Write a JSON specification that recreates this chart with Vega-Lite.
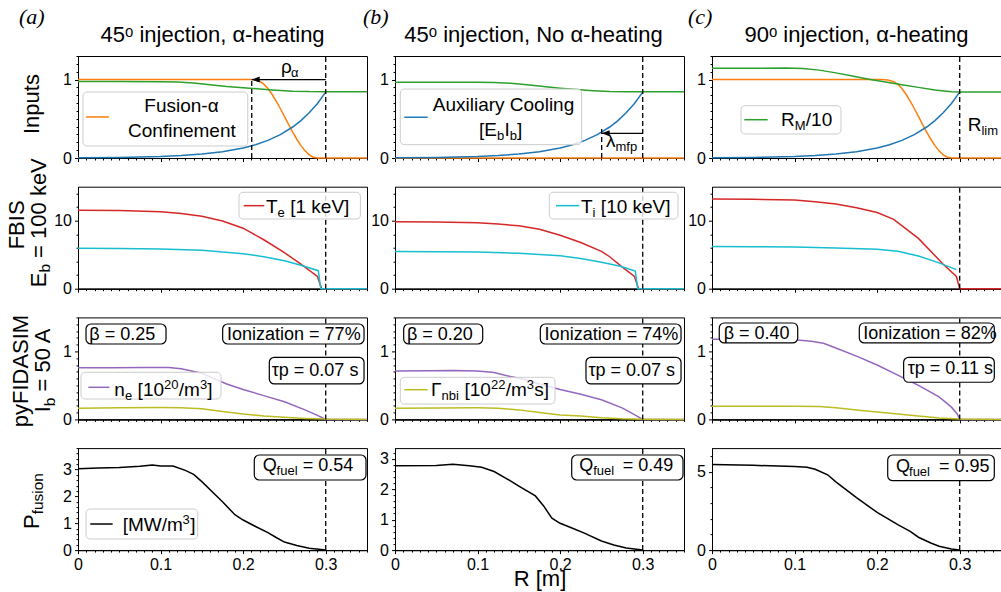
{
"$schema": "https://vega.github.io/schema/vega-lite/v6.json",
"padding": {"left": 5, "top": 5, "right": 0, "bottom": 0},
"background": "white",
"columns": 3,
"spacing": {"row": 28.7, "column": 28},
"bounds": "flush",
"datasets": {
"profiles": [
{"p":"a1","s":"alpha","R":0,"v":1},{"p":"a1","s":"alpha","R":0.213,"v":1},{"p":"a1","s":"alpha","R":0.22,"v":0.98},{"p":"a1","s":"alpha","R":0.225,"v":0.941},{"p":"a1","s":"alpha","R":0.23,"v":0.885},{"p":"a1","s":"alpha","R":0.235,"v":0.812},{"p":"a1","s":"alpha","R":0.24,"v":0.726},{"p":"a1","s":"alpha","R":0.245,"v":0.631},{"p":"a1","s":"alpha","R":0.25,"v":0.531},{"p":"a1","s":"alpha","R":0.255,"v":0.429},{"p":"a1","s":"alpha","R":0.26,"v":0.33},{"p":"a1","s":"alpha","R":0.265,"v":0.239},{"p":"a1","s":"alpha","R":0.27,"v":0.157},{"p":"a1","s":"alpha","R":0.275,"v":0.091},{"p":"a1","s":"alpha","R":0.28,"v":0.041},{"p":"a1","s":"alpha","R":0.285,"v":0.01},{"p":"a1","s":"alpha","R":0.29,"v":0},{"p":"a1","s":"alpha","R":0.35,"v":0},
{"p":"a1","s":"rm","R":0,"v":0.975},{"p":"a1","s":"rm","R":0.05,"v":0.975},{"p":"a1","s":"rm","R":0.1,"v":0.972},{"p":"a1","s":"rm","R":0.12,"v":0.968},{"p":"a1","s":"rm","R":0.14,"v":0.955},{"p":"a1","s":"rm","R":0.16,"v":0.935},{"p":"a1","s":"rm","R":0.18,"v":0.912},{"p":"a1","s":"rm","R":0.2,"v":0.895},{"p":"a1","s":"rm","R":0.22,"v":0.88},{"p":"a1","s":"rm","R":0.24,"v":0.864},{"p":"a1","s":"rm","R":0.26,"v":0.852},{"p":"a1","s":"rm","R":0.28,"v":0.846},{"p":"a1","s":"rm","R":0.3,"v":0.845},{"p":"a1","s":"rm","R":0.35,"v":0.845},
{"p":"a1","s":"cool","R":0,"v":0.003},{"p":"a1","s":"cool","R":0.05,"v":0.007},{"p":"a1","s":"cool","R":0.1,"v":0.019},{"p":"a1","s":"cool","R":0.125,"v":0.031},{"p":"a1","s":"cool","R":0.15,"v":0.05},{"p":"a1","s":"cool","R":0.175,"v":0.079},{"p":"a1","s":"cool","R":0.2,"v":0.127},{"p":"a1","s":"cool","R":0.215,"v":0.169},{"p":"a1","s":"cool","R":0.23,"v":0.224},{"p":"a1","s":"cool","R":0.245,"v":0.298},{"p":"a1","s":"cool","R":0.26,"v":0.395},{"p":"a1","s":"cool","R":0.27,"v":0.477},{"p":"a1","s":"cool","R":0.28,"v":0.576},{"p":"a1","s":"cool","R":0.29,"v":0.695},{"p":"a1","s":"cool","R":0.3,"v":0.84},
{"p":"b1","s":"alpha","R":0,"v":0},{"p":"b1","s":"alpha","R":0.35,"v":0},
{"p":"b1","s":"rm","R":0,"v":0.965},{"p":"b1","s":"rm","R":0.05,"v":0.965},{"p":"b1","s":"rm","R":0.1,"v":0.965},{"p":"b1","s":"rm","R":0.12,"v":0.962},{"p":"b1","s":"rm","R":0.14,"v":0.952},{"p":"b1","s":"rm","R":0.16,"v":0.935},{"p":"b1","s":"rm","R":0.18,"v":0.912},{"p":"b1","s":"rm","R":0.2,"v":0.89},{"p":"b1","s":"rm","R":0.22,"v":0.872},{"p":"b1","s":"rm","R":0.24,"v":0.858},{"p":"b1","s":"rm","R":0.26,"v":0.848},{"p":"b1","s":"rm","R":0.28,"v":0.845},{"p":"b1","s":"rm","R":0.3,"v":0.845},{"p":"b1","s":"rm","R":0.35,"v":0.845},
{"p":"b1","s":"cool","R":0,"v":0.003},{"p":"b1","s":"cool","R":0.05,"v":0.007},{"p":"b1","s":"cool","R":0.1,"v":0.019},{"p":"b1","s":"cool","R":0.125,"v":0.031},{"p":"b1","s":"cool","R":0.15,"v":0.05},{"p":"b1","s":"cool","R":0.175,"v":0.079},{"p":"b1","s":"cool","R":0.2,"v":0.127},{"p":"b1","s":"cool","R":0.215,"v":0.169},{"p":"b1","s":"cool","R":0.23,"v":0.224},{"p":"b1","s":"cool","R":0.245,"v":0.298},{"p":"b1","s":"cool","R":0.26,"v":0.395},{"p":"b1","s":"cool","R":0.27,"v":0.477},{"p":"b1","s":"cool","R":0.28,"v":0.576},{"p":"b1","s":"cool","R":0.29,"v":0.695},{"p":"b1","s":"cool","R":0.3,"v":0.84},
{"p":"c1","s":"alpha","R":0,"v":1},{"p":"c1","s":"alpha","R":0.205,"v":1},{"p":"c1","s":"alpha","R":0.213,"v":0.993},{"p":"c1","s":"alpha","R":0.22,"v":0.972},{"p":"c1","s":"alpha","R":0.225,"v":0.941},{"p":"c1","s":"alpha","R":0.23,"v":0.885},{"p":"c1","s":"alpha","R":0.235,"v":0.812},{"p":"c1","s":"alpha","R":0.24,"v":0.726},{"p":"c1","s":"alpha","R":0.245,"v":0.631},{"p":"c1","s":"alpha","R":0.25,"v":0.531},{"p":"c1","s":"alpha","R":0.255,"v":0.429},{"p":"c1","s":"alpha","R":0.26,"v":0.33},{"p":"c1","s":"alpha","R":0.265,"v":0.239},{"p":"c1","s":"alpha","R":0.27,"v":0.157},{"p":"c1","s":"alpha","R":0.275,"v":0.091},{"p":"c1","s":"alpha","R":0.28,"v":0.041},{"p":"c1","s":"alpha","R":0.285,"v":0.01},{"p":"c1","s":"alpha","R":0.29,"v":0},{"p":"c1","s":"alpha","R":0.35,"v":0},
{"p":"c1","s":"rm","R":0,"v":1.145},{"p":"c1","s":"rm","R":0.03,"v":1.143},{"p":"c1","s":"rm","R":0.06,"v":1.145},{"p":"c1","s":"rm","R":0.09,"v":1.148},{"p":"c1","s":"rm","R":0.11,"v":1.142},{"p":"c1","s":"rm","R":0.13,"v":1.12},{"p":"c1","s":"rm","R":0.15,"v":1.085},{"p":"c1","s":"rm","R":0.17,"v":1.045},{"p":"c1","s":"rm","R":0.19,"v":1.005},{"p":"c1","s":"rm","R":0.21,"v":0.968},{"p":"c1","s":"rm","R":0.23,"v":0.935},{"p":"c1","s":"rm","R":0.25,"v":0.9},{"p":"c1","s":"rm","R":0.27,"v":0.868},{"p":"c1","s":"rm","R":0.29,"v":0.845},{"p":"c1","s":"rm","R":0.3,"v":0.84},{"p":"c1","s":"rm","R":0.35,"v":0.84},
{"p":"c1","s":"cool","R":0,"v":0.003},{"p":"c1","s":"cool","R":0.05,"v":0.007},{"p":"c1","s":"cool","R":0.1,"v":0.019},{"p":"c1","s":"cool","R":0.125,"v":0.031},{"p":"c1","s":"cool","R":0.15,"v":0.05},{"p":"c1","s":"cool","R":0.175,"v":0.079},{"p":"c1","s":"cool","R":0.2,"v":0.127},{"p":"c1","s":"cool","R":0.215,"v":0.169},{"p":"c1","s":"cool","R":0.23,"v":0.224},{"p":"c1","s":"cool","R":0.245,"v":0.298},{"p":"c1","s":"cool","R":0.26,"v":0.395},{"p":"c1","s":"cool","R":0.27,"v":0.477},{"p":"c1","s":"cool","R":0.28,"v":0.576},{"p":"c1","s":"cool","R":0.29,"v":0.695},{"p":"c1","s":"cool","R":0.3,"v":0.84},
{"p":"a2","s":"te","R":0,"v":11.55},{"p":"a2","s":"te","R":0.05,"v":11.5},{"p":"a2","s":"te","R":0.1,"v":11.3},{"p":"a2","s":"te","R":0.125,"v":11.05},{"p":"a2","s":"te","R":0.15,"v":10.65},{"p":"a2","s":"te","R":0.175,"v":9.95},{"p":"a2","s":"te","R":0.2,"v":8.9},{"p":"a2","s":"te","R":0.225,"v":7.2},{"p":"a2","s":"te","R":0.25,"v":5.3},{"p":"a2","s":"te","R":0.27,"v":3.6},{"p":"a2","s":"te","R":0.29,"v":1.8},{"p":"a2","s":"te","R":0.295,"v":0},{"p":"a2","s":"te","R":0.35,"v":0},
{"p":"a2","s":"ti","R":0,"v":5.95},{"p":"a2","s":"ti","R":0.05,"v":5.93},{"p":"a2","s":"ti","R":0.1,"v":5.85},{"p":"a2","s":"ti","R":0.15,"v":5.65},{"p":"a2","s":"ti","R":0.2,"v":5.15},{"p":"a2","s":"ti","R":0.225,"v":4.7},{"p":"a2","s":"ti","R":0.25,"v":4.1},{"p":"a2","s":"ti","R":0.27,"v":3.45},{"p":"a2","s":"ti","R":0.291,"v":2.65},{"p":"a2","s":"ti","R":0.294,"v":0},{"p":"a2","s":"ti","R":0.35,"v":0},
{"p":"b2","s":"te","R":0,"v":9.85},{"p":"b2","s":"te","R":0.05,"v":9.82},{"p":"b2","s":"te","R":0.1,"v":9.7},{"p":"b2","s":"te","R":0.125,"v":9.5},{"p":"b2","s":"te","R":0.15,"v":9.25},{"p":"b2","s":"te","R":0.175,"v":8.75},{"p":"b2","s":"te","R":0.2,"v":7.85},{"p":"b2","s":"te","R":0.225,"v":6.8},{"p":"b2","s":"te","R":0.25,"v":5.5},{"p":"b2","s":"te","R":0.26,"v":4.7},{"p":"b2","s":"te","R":0.275,"v":3.2},{"p":"b2","s":"te","R":0.29,"v":1.8},{"p":"b2","s":"te","R":0.295,"v":0},{"p":"b2","s":"te","R":0.35,"v":0},
{"p":"b2","s":"ti","R":0,"v":5.47},{"p":"b2","s":"ti","R":0.05,"v":5.45},{"p":"b2","s":"ti","R":0.1,"v":5.38},{"p":"b2","s":"ti","R":0.15,"v":5.2},{"p":"b2","s":"ti","R":0.2,"v":4.85},{"p":"b2","s":"ti","R":0.225,"v":4.45},{"p":"b2","s":"ti","R":0.25,"v":3.9},{"p":"b2","s":"ti","R":0.273,"v":3.3},{"p":"b2","s":"ti","R":0.291,"v":2.6},{"p":"b2","s":"ti","R":0.294,"v":0},{"p":"b2","s":"ti","R":0.35,"v":0},
{"p":"c2","s":"te","R":0,"v":13.2},{"p":"c2","s":"te","R":0.05,"v":13.15},{"p":"c2","s":"te","R":0.1,"v":13.05},{"p":"c2","s":"te","R":0.125,"v":12.8},{"p":"c2","s":"te","R":0.15,"v":12.45},{"p":"c2","s":"te","R":0.175,"v":11.9},{"p":"c2","s":"te","R":0.2,"v":11.2},{"p":"c2","s":"te","R":0.22,"v":10.2},{"p":"c2","s":"te","R":0.25,"v":7.4},{"p":"c2","s":"te","R":0.28,"v":3.6},{"p":"c2","s":"te","R":0.296,"v":1.8},{"p":"c2","s":"te","R":0.3,"v":0},{"p":"c2","s":"te","R":0.35,"v":0},
{"p":"c2","s":"ti","R":0,"v":6.2},{"p":"c2","s":"ti","R":0.05,"v":6.18},{"p":"c2","s":"ti","R":0.1,"v":6.12},{"p":"c2","s":"ti","R":0.15,"v":6.0},{"p":"c2","s":"ti","R":0.2,"v":5.8},{"p":"c2","s":"ti","R":0.225,"v":5.5},{"p":"c2","s":"ti","R":0.25,"v":4.8},{"p":"c2","s":"ti","R":0.275,"v":3.8},{"p":"c2","s":"ti","R":0.296,"v":2.8},
{"p":"a3","s":"ne","R":0,"v":0.76},{"p":"a3","s":"ne","R":0.04,"v":0.76},{"p":"a3","s":"ne","R":0.08,"v":0.765},{"p":"a3","s":"ne","R":0.11,"v":0.765},{"p":"a3","s":"ne","R":0.125,"v":0.745},{"p":"a3","s":"ne","R":0.15,"v":0.68},{"p":"a3","s":"ne","R":0.165,"v":0.6},{"p":"a3","s":"ne","R":0.18,"v":0.52},{"p":"a3","s":"ne","R":0.2,"v":0.44},{"p":"a3","s":"ne","R":0.225,"v":0.35},{"p":"a3","s":"ne","R":0.25,"v":0.26},{"p":"a3","s":"ne","R":0.275,"v":0.14},{"p":"a3","s":"ne","R":0.29,"v":0.06},{"p":"a3","s":"ne","R":0.3,"v":0},{"p":"a3","s":"ne","R":0.35,"v":0},
{"p":"a3","s":"gnbi","R":0,"v":0.165},{"p":"a3","s":"gnbi","R":0.05,"v":0.17},{"p":"a3","s":"gnbi","R":0.1,"v":0.175},{"p":"a3","s":"gnbi","R":0.125,"v":0.172},{"p":"a3","s":"gnbi","R":0.15,"v":0.155},{"p":"a3","s":"gnbi","R":0.175,"v":0.115},{"p":"a3","s":"gnbi","R":0.2,"v":0.08},{"p":"a3","s":"gnbi","R":0.225,"v":0.05},{"p":"a3","s":"gnbi","R":0.25,"v":0.03},{"p":"a3","s":"gnbi","R":0.275,"v":0.015},{"p":"a3","s":"gnbi","R":0.3,"v":0.005},{"p":"a3","s":"gnbi","R":0.35,"v":0},
{"p":"b3","s":"ne","R":0,"v":0.71},{"p":"b3","s":"ne","R":0.04,"v":0.715},{"p":"b3","s":"ne","R":0.07,"v":0.72},{"p":"b3","s":"ne","R":0.1,"v":0.71},{"p":"b3","s":"ne","R":0.12,"v":0.69},{"p":"b3","s":"ne","R":0.14,"v":0.63},{"p":"b3","s":"ne","R":0.16,"v":0.58},{"p":"b3","s":"ne","R":0.175,"v":0.52},{"p":"b3","s":"ne","R":0.2,"v":0.44},{"p":"b3","s":"ne","R":0.225,"v":0.37},{"p":"b3","s":"ne","R":0.25,"v":0.29},{"p":"b3","s":"ne","R":0.275,"v":0.17},{"p":"b3","s":"ne","R":0.29,"v":0.07},{"p":"b3","s":"ne","R":0.3,"v":0},{"p":"b3","s":"ne","R":0.35,"v":0},
{"p":"b3","s":"gnbi","R":0,"v":0.165},{"p":"b3","s":"gnbi","R":0.1,"v":0.17},{"p":"b3","s":"gnbi","R":0.125,"v":0.165},{"p":"b3","s":"gnbi","R":0.15,"v":0.14},{"p":"b3","s":"gnbi","R":0.175,"v":0.1},{"p":"b3","s":"gnbi","R":0.2,"v":0.065},{"p":"b3","s":"gnbi","R":0.225,"v":0.05},{"p":"b3","s":"gnbi","R":0.25,"v":0.025},{"p":"b3","s":"gnbi","R":0.275,"v":0.01},{"p":"b3","s":"gnbi","R":0.3,"v":0.003},{"p":"b3","s":"gnbi","R":0.35,"v":0},
{"p":"c3","s":"ne","R":0,"v":1.18},{"p":"c3","s":"ne","R":0.05,"v":1.18},{"p":"c3","s":"ne","R":0.1,"v":1.17},{"p":"c3","s":"ne","R":0.12,"v":1.15},{"p":"c3","s":"ne","R":0.135,"v":1.12},{"p":"c3","s":"ne","R":0.15,"v":1.05},{"p":"c3","s":"ne","R":0.175,"v":0.93},{"p":"c3","s":"ne","R":0.2,"v":0.8},{"p":"c3","s":"ne","R":0.225,"v":0.65},{"p":"c3","s":"ne","R":0.25,"v":0.5},{"p":"c3","s":"ne","R":0.275,"v":0.33},{"p":"c3","s":"ne","R":0.29,"v":0.18},{"p":"c3","s":"ne","R":0.297,"v":0.08},{"p":"c3","s":"ne","R":0.3,"v":0},{"p":"c3","s":"ne","R":0.35,"v":0},
{"p":"c3","s":"gnbi","R":0,"v":0.195},{"p":"c3","s":"gnbi","R":0.1,"v":0.195},{"p":"c3","s":"gnbi","R":0.13,"v":0.19},{"p":"c3","s":"gnbi","R":0.15,"v":0.17},{"p":"c3","s":"gnbi","R":0.175,"v":0.14},{"p":"c3","s":"gnbi","R":0.2,"v":0.11},{"p":"c3","s":"gnbi","R":0.225,"v":0.08},{"p":"c3","s":"gnbi","R":0.25,"v":0.05},{"p":"c3","s":"gnbi","R":0.275,"v":0.02},{"p":"c3","s":"gnbi","R":0.3,"v":0.005},{"p":"c3","s":"gnbi","R":0.35,"v":0},
{"p":"a4","s":"pf","R":0,"v":3.03},{"p":"a4","s":"pf","R":0.025,"v":3.06},{"p":"a4","s":"pf","R":0.05,"v":3.08},{"p":"a4","s":"pf","R":0.075,"v":3.12},{"p":"a4","s":"pf","R":0.09,"v":3.17},{"p":"a4","s":"pf","R":0.1,"v":3.13},{"p":"a4","s":"pf","R":0.115,"v":3.13},{"p":"a4","s":"pf","R":0.13,"v":2.97},{"p":"a4","s":"pf","R":0.14,"v":2.82},{"p":"a4","s":"pf","R":0.15,"v":2.55},{"p":"a4","s":"pf","R":0.165,"v":2.1},{"p":"a4","s":"pf","R":0.175,"v":1.8},{"p":"a4","s":"pf","R":0.19,"v":1.32},{"p":"a4","s":"pf","R":0.2,"v":1.12},{"p":"a4","s":"pf","R":0.215,"v":0.88},{"p":"a4","s":"pf","R":0.23,"v":0.65},{"p":"a4","s":"pf","R":0.24,"v":0.47},{"p":"a4","s":"pf","R":0.25,"v":0.3},{"p":"a4","s":"pf","R":0.265,"v":0.17},{"p":"a4","s":"pf","R":0.28,"v":0.07},{"p":"a4","s":"pf","R":0.3,"v":0},
{"p":"b4","s":"pf","R":0,"v":2.77},{"p":"b4","s":"pf","R":0.05,"v":2.78},{"p":"b4","s":"pf","R":0.07,"v":2.82},{"p":"b4","s":"pf","R":0.09,"v":2.77},{"p":"b4","s":"pf","R":0.105,"v":2.72},{"p":"b4","s":"pf","R":0.12,"v":2.58},{"p":"b4","s":"pf","R":0.135,"v":2.35},{"p":"b4","s":"pf","R":0.15,"v":2.1},{"p":"b4","s":"pf","R":0.17,"v":1.78},{"p":"b4","s":"pf","R":0.18,"v":1.45},{"p":"b4","s":"pf","R":0.19,"v":1.05},{"p":"b4","s":"pf","R":0.2,"v":0.88},{"p":"b4","s":"pf","R":0.215,"v":0.72},{"p":"b4","s":"pf","R":0.23,"v":0.55},{"p":"b4","s":"pf","R":0.25,"v":0.3},{"p":"b4","s":"pf","R":0.265,"v":0.17},{"p":"b4","s":"pf","R":0.28,"v":0.07},{"p":"b4","s":"pf","R":0.3,"v":0},
{"p":"c4","s":"pf","R":0,"v":5.45},{"p":"c4","s":"pf","R":0.05,"v":5.4},{"p":"c4","s":"pf","R":0.1,"v":5.33},{"p":"c4","s":"pf","R":0.115,"v":5.28},{"p":"c4","s":"pf","R":0.125,"v":5.15},{"p":"c4","s":"pf","R":0.14,"v":4.8},{"p":"c4","s":"pf","R":0.15,"v":4.35},{"p":"c4","s":"pf","R":0.175,"v":3.35},{"p":"c4","s":"pf","R":0.2,"v":2.4},{"p":"c4","s":"pf","R":0.225,"v":1.62},{"p":"c4","s":"pf","R":0.24,"v":1.2},{"p":"c4","s":"pf","R":0.25,"v":0.82},{"p":"c4","s":"pf","R":0.265,"v":0.45},{"p":"c4","s":"pf","R":0.275,"v":0.25},{"p":"c4","s":"pf","R":0.29,"v":0.07},{"p":"c4","s":"pf","R":0.3,"v":0}
],
"notes": [
{"p":"a1","k":"dash","R":0.3,"v":0,"v2":1.3},
{"p":"a1","k":"dash","R":0.2104,"v":0,"v2":1},
{"p":"a1","k":"arrow","R":0.2104,"R2":0.3,"v":1},
{"p":"a1","k":"head","R":0.2152,"v":1},
{"p":"a1","k":"t","R":0.2459,"v":1.083,"t":"ρ"},
{"p":"a1","k":"sub","R":0.258,"v":1.083,"t":"α"},
{"p":"a1","k":"lbox","R":0.006,"R2":0.2056,"v":0.153,"v2":0.841},
{"p":"a1","k":"samp","R":0.0097,"R2":0.0375,"v":0.523,"s":"alpha"},
{"p":"a1","k":"t","R":0.0803,"v":0.582,"t":"Fusion-α"},
{"p":"a1","k":"t","R":0.0606,"v":0.264,"t":"Confinement"},
{"p":"a1","k":"yt","R":-0.0478,"v":0.306,"t":"Inputs"},
{"p":"a1","k":"tag","R":-0.0715,"v":1.708,"t":"(a)"},
{"p":"a1","k":"ttl","R":0.163,"v":1.478,"t":"45ᵒ injection, α-heating"},
{"p":"b1","k":"dash","R":0.3,"v":0,"v2":1.3},
{"p":"b1","k":"dash","R":0.2503,"v":0,"v2":0.4},
{"p":"b1","k":"arrow","R":0.2503,"R2":0.3,"v":0.315},
{"p":"b1","k":"head","R":0.2551,"v":0.315},
{"p":"b1","k":"t","R":0.2555,"v":0.136,"t":"λ"},
{"p":"b1","k":"sub","R":0.267,"v":0.136,"t":"mfp"},
{"p":"b1","k":"lbox","R":0.0064,"R2":0.226,"v":0.17,"v2":0.879},
{"p":"b1","k":"samp","R":0.0113,"R2":0.0396,"v":0.519,"s":"cool"},
{"p":"b1","k":"t","R":0.0457,"v":0.603,"t":"Auxiliary Cooling"},
{"p":"b1","k":"t","R":0.1017,"v":0.284,"t":"[E"},
{"p":"b1","k":"sub","R":0.1235,"v":0.284,"t":"b"},
{"p":"b1","k":"t","R":0.1325,"v":0.284,"t":"I"},
{"p":"b1","k":"sub","R":0.1389,"v":0.284,"t":"b"},
{"p":"b1","k":"t","R":0.1479,"v":0.284,"t":"]"},
{"p":"b1","k":"tag","R":-0.0388,"v":1.708,"t":"(b)"},
{"p":"b1","k":"ttl","R":0.1677,"v":1.478,"t":"45ᵒ injection, No α-heating"},
{"p":"c1","k":"dash","R":0.3,"v":0,"v2":1.3},
{"p":"c1","k":"t","R":0.3097,"v":0.348,"t":"R"},
{"p":"c1","k":"sub","R":0.3263,"v":0.348,"t":"lim"},
{"p":"c1","k":"lbox","R":0.0351,"R2":0.1562,"v":0.306,"v2":0.667},
{"p":"c1","k":"samp","R":0.0391,"R2":0.0674,"v":0.488,"s":"rm"},
{"p":"c1","k":"t","R":0.0836,"v":0.412,"t":"R"},
{"p":"c1","k":"sub","R":0.1002,"v":0.412,"t":"M"},
{"p":"c1","k":"t","R":0.1136,"v":0.412,"t":"/10"},
{"p":"c1","k":"tag","R":-0.0291,"v":1.708,"t":"(c)"},
{"p":"c1","k":"ttl","R":0.175,"v":1.478,"t":"90ᵒ injection, α-heating"},
{"p":"a2","k":"dash","R":0.3,"v":0,"v2":15},
{"p":"a2","k":"lbox","R":0.195,"R2":0.342,"v":10.25,"v2":14.18},
{"p":"a2","k":"samp","R":0.2007,"R2":0.2256,"v":12.21,"s":"te"},
{"p":"a2","k":"t","R":0.2277,"v":11.06,"t":"T"},
{"p":"a2","k":"sub","R":0.2417,"v":11.06,"t":"e"},
{"p":"a2","k":"t","R":0.257,"v":11.06,"t":"[1 keV]"},
{"p":"a2","k":"yt","R":-0.0654,"v":5.79,"t":"FBIS"},
{"p":"a2","k":"yt","R":-0.0388,"v":0.206,"t":"E"},
{"p":"a2","k":"ysub","R":-0.0388,"v":2.37,"t":"b"},
{"p":"a2","k":"yt","R":-0.0388,"v":4.53,"t":"= 100 keV"},
{"p":"b2","k":"dash","R":0.3,"v":0,"v2":15},
{"p":"b2","k":"lbox","R":0.1869,"R2":0.3427,"v":10.25,"v2":14.18},
{"p":"b2","k":"samp","R":0.195,"R2":0.2232,"v":12.21,"s":"ti"},
{"p":"b2","k":"t","R":0.2253,"v":11.06,"t":"T"},
{"p":"b2","k":"sub","R":0.2393,"v":11.06,"t":"i"},
{"p":"b2","k":"t","R":0.2493,"v":11.06,"t":"[10 keV]"},
{"p":"c2","k":"dash","R":0.3,"v":0,"v2":15},
{"p":"a3","k":"dash","R":0.3,"v":0,"v2":1.5},
{"p":"a3","k":"nbox","R":0.0097,"R2":0.1066,"v":1.109,"v2":1.403},
{"p":"a3","k":"nbox","R":0.1752,"R2":0.3464,"v":1.109,"v2":1.403},
{"p":"a3","k":"nbox","R":0.2317,"R2":0.3464,"v":0.521,"v2":0.913},
{"p":"a3","k":"bt","R":0.0137,"v":1.168,"t":"β = 0.25"},
{"p":"a3","k":"bt","R":0.1805,"v":1.168,"t":"Ionization = 77%"},
{"p":"a3","k":"bt","R":0.2346,"v":0.643,"t":"τp = 0.07 s"},
{"p":"a3","k":"lbox","R":0.0036,"R2":0.1732,"v":0.3,"v2":0.693},
{"p":"a3","k":"samp","R":0.0125,"R2":0.038,"v":0.472,"s":"ne"},
{"p":"a3","k":"t","R":0.044,"v":0.349,"t":"n"},
{"p":"a3","k":"sub","R":0.0568,"v":0.349,"t":"e"},
{"p":"a3","k":"t","R":0.0722,"v":0.349,"t":"[10"},
{"p":"a3","k":"sup","R":0.1042,"v":0.349,"t":"20"},
{"p":"a3","k":"t","R":0.1221,"v":0.349,"t":"/m"},
{"p":"a3","k":"sup","R":0.1477,"v":0.349,"t":"3"},
{"p":"a3","k":"t","R":0.1566,"v":0.349,"t":"]"},
{"p":"a3","k":"yt","R":-0.06,"v":-0.116,"t":"pyFIDASIM"},
{"p":"a3","k":"yt","R":-0.0339,"v":0.104,"t":"I"},
{"p":"a3","k":"ysub","R":-0.0339,"v":0.195,"t":"b"},
{"p":"a3","k":"yt","R":-0.0339,"v":0.41,"t":"= 50 A"},
{"p":"b3","k":"dash","R":0.3,"v":0,"v2":1.5},
{"p":"b3","k":"nbox","R":0.0105,"R2":0.1062,"v":1.109,"v2":1.403},
{"p":"b3","k":"nbox","R":0.176,"R2":0.3464,"v":1.109,"v2":1.403},
{"p":"b3","k":"nbox","R":0.2313,"R2":0.3464,"v":0.521,"v2":0.913},
{"p":"b3","k":"bt","R":0.0145,"v":1.168,"t":"β = 0.20"},
{"p":"b3","k":"bt","R":0.1812,"v":1.168,"t":"Ionization = 74%"},
{"p":"b3","k":"bt","R":0.2342,"v":0.643,"t":"τp = 0.07 s"},
{"p":"b3","k":"lbox","R":0.0064,"R2":0.1938,"v":0.226,"v2":0.619},
{"p":"b3","k":"samp","R":0.0113,"R2":0.0396,"v":0.437,"s":"gnbi"},
{"p":"b3","k":"t","R":0.0436,"v":0.34,"t":"Γ"},
{"p":"b3","k":"sub","R":0.0564,"v":0.34,"t":"nbi"},
{"p":"b3","k":"t","R":0.0842,"v":0.34,"t":"[10"},
{"p":"b3","k":"sup","R":0.1163,"v":0.34,"t":"22"},
{"p":"b3","k":"t","R":0.1342,"v":0.34,"t":"/m"},
{"p":"b3","k":"sup","R":0.1597,"v":0.34,"t":"3"},
{"p":"b3","k":"t","R":0.1687,"v":0.34,"t":"s]"},
{"p":"c3","k":"dash","R":0.3,"v":0,"v2":1.5},
{"p":"c3","k":"nbox","R":0.0088,"R2":0.1038,"v":1.124,"v2":1.418},
{"p":"c3","k":"nbox","R":0.1784,"R2":0.3419,"v":1.124,"v2":1.418},
{"p":"c3","k":"nbox","R":0.2321,"R2":0.3419,"v":0.546,"v2":0.913},
{"p":"c3","k":"bt","R":0.0142,"v":1.182,"t":"β = 0.40"},
{"p":"c3","k":"bt","R":0.1832,"v":1.182,"t":"Ionization = 82%"},
{"p":"c3","k":"bt","R":0.237,"v":0.668,"t":"τp = 0.11 s"},
{"p":"a4","k":"dash","R":0.3,"v":0,"v2":3.8},
{"p":"a4","k":"nbox","R":0.2135,"R2":0.3488,"v":2.612,"v2":3.543},
{"p":"a4","k":"bt","R":0.2236,"v":2.958,"t":"Q"},
{"p":"a4","k":"sub","R":0.2405,"v":2.958,"t":"fuel"},
{"p":"a4","k":"bt","R":0.2721,"v":2.958,"t":"= 0.54"},
{"p":"a4","k":"lbox","R":0.0097,"R2":0.145,"v":0.414,"v2":1.531},
{"p":"a4","k":"samp","R":0.0149,"R2":0.042,"v":0.972,"s":"pf"},
{"p":"a4","k":"t","R":0.0541,"v":0.723,"t":"[MW/m"},
{"p":"a4","k":"sup","R":0.1266,"v":0.723,"t":"3"},
{"p":"a4","k":"t","R":0.1359,"v":0.723,"t":"]"},
{"p":"a4","k":"yt","R":-0.0478,"v":0.786,"t":"P"},
{"p":"a4","k":"ysub","R":-0.0478,"v":1.334,"t":"fusion"},
{"p":"b4","k":"dash","R":0.3,"v":0,"v2":3.35},
{"p":"b4","k":"nbox","R":0.214,"R2":0.3488,"v":2.302,"v2":3.123},
{"p":"b4","k":"bt","R":0.2232,"v":2.608,"t":"Q"},
{"p":"b4","k":"sub","R":0.2401,"v":2.608,"t":"fuel"},
{"p":"b4","k":"bt","R":0.2758,"v":2.608,"t":"= 0.49"},
{"p":"c4","k":"dash","R":0.3,"v":0,"v2":6.5},
{"p":"c4","k":"nbox","R":0.2128,"R2":0.3419,"v":4.423,"v2":6.061},
{"p":"c4","k":"bt","R":0.2228,"v":4.958,"t":"Q"},
{"p":"c4","k":"sub","R":0.2386,"v":4.958,"t":"fuel"},
{"p":"c4","k":"bt","R":0.275,"v":4.958,"t":"= 0.95"}
]
},
"concat": [
{"width":289,"height":102,
 "encoding":{"x":{"field":"R","type":"quantitative","scale":{"domain":[0,0.35],"nice":false,"zero":false},"axis":{"orient":"bottom","values":[0,0.1,0.2,0.3],"labels":false,"tickSize":3.5,"title":null}},
  "y":{"field":"v","type":"quantitative","scale":{"domain":[0,1.3],"nice":false,"zero":false},"axis":{"orient":"left","values":[0,1],"format":"d","tickSize":3.5,"title":null}}},
 "resolve":{"axis":{"x":"independent","y":"independent"}},
 "layer":[
  {"layer":[
   {"data":{"name":"profiles"},"transform":[{"filter":"datum.p=='a1'"}],"mark":{"type":"line","strokeWidth":1.5},"encoding":{"color":{"field":"s","type":"nominal","scale":{"domain":["alpha","cool","rm","te","ti","ne","gnbi","pf"],"range":["#ff7f0e","#1f77b4","#2ca02c","#d62728","#17becf","#9467bd","#bcbd22","#000000"]},"legend":null}}},
   {"data":{"name":"notes"},"transform":[{"filter":"datum.p=='a1'&&datum.k=='dash'"}],"mark":{"type":"rule","color":"black","strokeWidth":1.3,"strokeDash":[5,3]},"encoding":{"y2":{"field":"v2"}}},
   {"data":{"name":"notes"},"transform":[{"filter":"datum.p=='a1'&&datum.k=='arrow'"}],"mark":{"type":"rule","color":"black","strokeWidth":1.3},"encoding":{"x2":{"field":"R2"}}},
   {"data":{"name":"notes"},"transform":[{"filter":"datum.p=='a1'&&datum.k=='head'"}],"mark":{"type":"point","shape":"M-1,0L1,-0.75L1,0.75Z","filled":true,"color":"black","opacity":1,"size":64}},
   {"data":{"name":"notes"},"transform":[{"filter":"datum.p=='a1'&&datum.k=='lbox'"}],"mark":{"type":"rect","fill":"white","fillOpacity":0.8,"stroke":"#cccccc","strokeWidth":1,"cornerRadius":4},"encoding":{"x2":{"field":"R2"},"y2":{"field":"v2"}}},
   {"data":{"name":"notes"},"transform":[{"filter":"datum.p=='a1'&&datum.k=='samp'"}],"mark":{"type":"rule","strokeWidth":1.5},"encoding":{"x2":{"field":"R2"},"color":{"field":"s","type":"nominal","scale":{"domain":["alpha","cool","rm","te","ti","ne","gnbi","pf"],"range":["#ff7f0e","#1f77b4","#2ca02c","#d62728","#17becf","#9467bd","#bcbd22","#000000"]},"legend":null}}},
   {"data":{"name":"notes"},"transform":[{"filter":"datum.p=='a1'&&datum.k=='t'"}],"mark":{"type":"text","align":"left","baseline":"alphabetic","fontSize":19},"encoding":{"text":{"field":"t","type":"nominal"}}},
   {"data":{"name":"notes"},"transform":[{"filter":"datum.p=='a1'&&datum.k=='sub'"}],"mark":{"type":"text","align":"left","baseline":"alphabetic","fontSize":13,"dy":4},"encoding":{"text":{"field":"t","type":"nominal"}}},
   {"data":{"name":"notes"},"transform":[{"filter":"datum.p=='a1'&&datum.k=='yt'"}],"mark":{"type":"text","align":"left","baseline":"alphabetic","fontSize":22,"angle":270},"encoding":{"text":{"field":"t","type":"nominal"}}},
   {"data":{"name":"notes"},"transform":[{"filter":"datum.p=='a1'&&datum.k=='ttl'"}],"mark":{"type":"text","align":"center","baseline":"alphabetic","fontSize":22},"encoding":{"text":{"field":"t","type":"nominal"}}},
   {"data":{"name":"notes"},"transform":[{"filter":"datum.p=='a1'&&datum.k=='tag'"}],"mark":{"type":"text","align":"left","baseline":"alphabetic","fontSize":22,"font":"Liberation Serif","fontStyle":"italic"},"encoding":{"text":{"field":"t","type":"nominal"}}}
  ]},
  {"data":{"name":"notes"},"transform":[{"filter":"datum.p=='a1'&&datum.k=='dash'"}],"mark":{"type":"point","opacity":0},
   "encoding":{"x":{"field":"R","type":"quantitative","scale":{"domain":[0,0.35],"nice":false,"zero":false},"axis":{"orient":"bottom","values":[0.01,0.02,0.03,0.04,0.05,0.06,0.07,0.08,0.09,0.11,0.12,0.13,0.14,0.15,0.16,0.17,0.18,0.19,0.21,0.22,0.23,0.24,0.25,0.26,0.27,0.28,0.29,0.31,0.32,0.33,0.34,0.35],"labels":false,"tickSize":2,"title":null}},
    "y":{"field":"v","type":"quantitative","scale":{"domain":[0,1.3],"nice":false,"zero":false},"axis":{"orient":"left","values":[0.1,0.2,0.3,0.4,0.5,0.6,0.7,0.8,0.9,1.1,1.2,1.3],"labels":false,"tickSize":2,"title":null}}}}
 ]},
{"width":289,"height":102,
 "encoding":{"x":{"field":"R","type":"quantitative","scale":{"domain":[0,0.35],"nice":false,"zero":false},"axis":{"orient":"bottom","values":[0,0.1,0.2,0.3],"labels":false,"tickSize":3.5,"title":null}},
  "y":{"field":"v","type":"quantitative","scale":{"domain":[0,1.3],"nice":false,"zero":false},"axis":{"orient":"left","values":[0,1],"format":"d","tickSize":3.5,"title":null}}},
 "resolve":{"axis":{"x":"independent","y":"independent"}},
 "layer":[
  {"layer":[
   {"data":{"name":"profiles"},"transform":[{"filter":"datum.p=='b1'"}],"mark":{"type":"line","strokeWidth":1.5},"encoding":{"color":{"field":"s","type":"nominal","scale":{"domain":["alpha","cool","rm","te","ti","ne","gnbi","pf"],"range":["#ff7f0e","#1f77b4","#2ca02c","#d62728","#17becf","#9467bd","#bcbd22","#000000"]},"legend":null}}},
   {"data":{"name":"notes"},"transform":[{"filter":"datum.p=='b1'&&datum.k=='dash'"}],"mark":{"type":"rule","color":"black","strokeWidth":1.3,"strokeDash":[5,3]},"encoding":{"y2":{"field":"v2"}}},
   {"data":{"name":"notes"},"transform":[{"filter":"datum.p=='b1'&&datum.k=='arrow'"}],"mark":{"type":"rule","color":"black","strokeWidth":1.3},"encoding":{"x2":{"field":"R2"}}},
   {"data":{"name":"notes"},"transform":[{"filter":"datum.p=='b1'&&datum.k=='head'"}],"mark":{"type":"point","shape":"M-1,0L1,-0.75L1,0.75Z","filled":true,"color":"black","opacity":1,"size":64}},
   {"data":{"name":"notes"},"transform":[{"filter":"datum.p=='b1'&&datum.k=='lbox'"}],"mark":{"type":"rect","fill":"white","fillOpacity":0.8,"stroke":"#cccccc","strokeWidth":1,"cornerRadius":4},"encoding":{"x2":{"field":"R2"},"y2":{"field":"v2"}}},
   {"data":{"name":"notes"},"transform":[{"filter":"datum.p=='b1'&&datum.k=='samp'"}],"mark":{"type":"rule","strokeWidth":1.5},"encoding":{"x2":{"field":"R2"},"color":{"field":"s","type":"nominal","scale":{"domain":["alpha","cool","rm","te","ti","ne","gnbi","pf"],"range":["#ff7f0e","#1f77b4","#2ca02c","#d62728","#17becf","#9467bd","#bcbd22","#000000"]},"legend":null}}},
   {"data":{"name":"notes"},"transform":[{"filter":"datum.p=='b1'&&datum.k=='t'"}],"mark":{"type":"text","align":"left","baseline":"alphabetic","fontSize":19},"encoding":{"text":{"field":"t","type":"nominal"}}},
   {"data":{"name":"notes"},"transform":[{"filter":"datum.p=='b1'&&datum.k=='sub'"}],"mark":{"type":"text","align":"left","baseline":"alphabetic","fontSize":13,"dy":4},"encoding":{"text":{"field":"t","type":"nominal"}}},
   {"data":{"name":"notes"},"transform":[{"filter":"datum.p=='b1'&&datum.k=='ttl'"}],"mark":{"type":"text","align":"center","baseline":"alphabetic","fontSize":22},"encoding":{"text":{"field":"t","type":"nominal"}}},
   {"data":{"name":"notes"},"transform":[{"filter":"datum.p=='b1'&&datum.k=='tag'"}],"mark":{"type":"text","align":"left","baseline":"alphabetic","fontSize":22,"font":"Liberation Serif","fontStyle":"italic"},"encoding":{"text":{"field":"t","type":"nominal"}}}
  ]},
  {"data":{"name":"notes"},"transform":[{"filter":"datum.p=='b1'&&datum.k=='dash'"}],"mark":{"type":"point","opacity":0},
   "encoding":{"x":{"field":"R","type":"quantitative","scale":{"domain":[0,0.35],"nice":false,"zero":false},"axis":{"orient":"bottom","values":[0.01,0.02,0.03,0.04,0.05,0.06,0.07,0.08,0.09,0.11,0.12,0.13,0.14,0.15,0.16,0.17,0.18,0.19,0.21,0.22,0.23,0.24,0.25,0.26,0.27,0.28,0.29,0.31,0.32,0.33,0.34,0.35],"labels":false,"tickSize":2,"title":null}},
    "y":{"field":"v","type":"quantitative","scale":{"domain":[0,1.3],"nice":false,"zero":false},"axis":{"orient":"left","values":[0.1,0.2,0.3,0.4,0.5,0.6,0.7,0.8,0.9,1.1,1.2,1.3],"labels":false,"tickSize":2,"title":null}}}}
 ]},
{"width":289,"height":102,
 "encoding":{"x":{"field":"R","type":"quantitative","scale":{"domain":[0,0.35],"nice":false,"zero":false},"axis":{"orient":"bottom","values":[0,0.1,0.2,0.3],"labels":false,"tickSize":3.5,"title":null}},
  "y":{"field":"v","type":"quantitative","scale":{"domain":[0,1.3],"nice":false,"zero":false},"axis":{"orient":"left","values":[0,1],"format":"d","tickSize":3.5,"title":null}}},
 "resolve":{"axis":{"x":"independent","y":"independent"}},
 "layer":[
  {"layer":[
   {"data":{"name":"profiles"},"transform":[{"filter":"datum.p=='c1'"}],"mark":{"type":"line","strokeWidth":1.5},"encoding":{"color":{"field":"s","type":"nominal","scale":{"domain":["alpha","cool","rm","te","ti","ne","gnbi","pf"],"range":["#ff7f0e","#1f77b4","#2ca02c","#d62728","#17becf","#9467bd","#bcbd22","#000000"]},"legend":null}}},
   {"data":{"name":"notes"},"transform":[{"filter":"datum.p=='c1'&&datum.k=='dash'"}],"mark":{"type":"rule","color":"black","strokeWidth":1.3,"strokeDash":[5,3]},"encoding":{"y2":{"field":"v2"}}},
   {"data":{"name":"notes"},"transform":[{"filter":"datum.p=='c1'&&datum.k=='lbox'"}],"mark":{"type":"rect","fill":"white","fillOpacity":0.8,"stroke":"#cccccc","strokeWidth":1,"cornerRadius":4},"encoding":{"x2":{"field":"R2"},"y2":{"field":"v2"}}},
   {"data":{"name":"notes"},"transform":[{"filter":"datum.p=='c1'&&datum.k=='samp'"}],"mark":{"type":"rule","strokeWidth":1.5},"encoding":{"x2":{"field":"R2"},"color":{"field":"s","type":"nominal","scale":{"domain":["alpha","cool","rm","te","ti","ne","gnbi","pf"],"range":["#ff7f0e","#1f77b4","#2ca02c","#d62728","#17becf","#9467bd","#bcbd22","#000000"]},"legend":null}}},
   {"data":{"name":"notes"},"transform":[{"filter":"datum.p=='c1'&&datum.k=='t'"}],"mark":{"type":"text","align":"left","baseline":"alphabetic","fontSize":19},"encoding":{"text":{"field":"t","type":"nominal"}}},
   {"data":{"name":"notes"},"transform":[{"filter":"datum.p=='c1'&&datum.k=='sub'"}],"mark":{"type":"text","align":"left","baseline":"alphabetic","fontSize":13,"dy":4},"encoding":{"text":{"field":"t","type":"nominal"}}},
   {"data":{"name":"notes"},"transform":[{"filter":"datum.p=='c1'&&datum.k=='ttl'"}],"mark":{"type":"text","align":"center","baseline":"alphabetic","fontSize":22},"encoding":{"text":{"field":"t","type":"nominal"}}},
   {"data":{"name":"notes"},"transform":[{"filter":"datum.p=='c1'&&datum.k=='tag'"}],"mark":{"type":"text","align":"left","baseline":"alphabetic","fontSize":22,"font":"Liberation Serif","fontStyle":"italic"},"encoding":{"text":{"field":"t","type":"nominal"}}}
  ]},
  {"data":{"name":"notes"},"transform":[{"filter":"datum.p=='c1'&&datum.k=='dash'"}],"mark":{"type":"point","opacity":0},
   "encoding":{"x":{"field":"R","type":"quantitative","scale":{"domain":[0,0.35],"nice":false,"zero":false},"axis":{"orient":"bottom","values":[0.01,0.02,0.03,0.04,0.05,0.06,0.07,0.08,0.09,0.11,0.12,0.13,0.14,0.15,0.16,0.17,0.18,0.19,0.21,0.22,0.23,0.24,0.25,0.26,0.27,0.28,0.29,0.31,0.32,0.33,0.34,0.35],"labels":false,"tickSize":2,"title":null}},
    "y":{"field":"v","type":"quantitative","scale":{"domain":[0,1.3],"nice":false,"zero":false},"axis":{"orient":"left","values":[0.1,0.2,0.3,0.4,0.5,0.6,0.7,0.8,0.9,1.1,1.2,1.3],"labels":false,"tickSize":2,"title":null}}}}
 ]},
{"width":289,"height":102,
 "encoding":{"x":{"field":"R","type":"quantitative","scale":{"domain":[0,0.35],"nice":false,"zero":false},"axis":{"orient":"bottom","values":[0,0.1,0.2,0.3],"labels":false,"tickSize":3.5,"title":null}},
  "y":{"field":"v","type":"quantitative","scale":{"domain":[0,15],"nice":false,"zero":false},"axis":{"orient":"left","values":[0,10],"format":"d","tickSize":3.5,"title":null}}},
 "resolve":{"axis":{"x":"independent","y":"independent"}},
 "layer":[
  {"layer":[
   {"data":{"name":"profiles"},"transform":[{"filter":"datum.p=='a2'"}],"mark":{"type":"line","strokeWidth":1.5},"encoding":{"color":{"field":"s","type":"nominal","scale":{"domain":["alpha","cool","rm","te","ti","ne","gnbi","pf"],"range":["#ff7f0e","#1f77b4","#2ca02c","#d62728","#17becf","#9467bd","#bcbd22","#000000"]},"legend":null}}},
   {"data":{"name":"notes"},"transform":[{"filter":"datum.p=='a2'&&datum.k=='dash'"}],"mark":{"type":"rule","color":"black","strokeWidth":1.3,"strokeDash":[5,3]},"encoding":{"y2":{"field":"v2"}}},
   {"data":{"name":"notes"},"transform":[{"filter":"datum.p=='a2'&&datum.k=='lbox'"}],"mark":{"type":"rect","fill":"white","fillOpacity":0.8,"stroke":"#cccccc","strokeWidth":1,"cornerRadius":4},"encoding":{"x2":{"field":"R2"},"y2":{"field":"v2"}}},
   {"data":{"name":"notes"},"transform":[{"filter":"datum.p=='a2'&&datum.k=='samp'"}],"mark":{"type":"rule","strokeWidth":1.5},"encoding":{"x2":{"field":"R2"},"color":{"field":"s","type":"nominal","scale":{"domain":["alpha","cool","rm","te","ti","ne","gnbi","pf"],"range":["#ff7f0e","#1f77b4","#2ca02c","#d62728","#17becf","#9467bd","#bcbd22","#000000"]},"legend":null}}},
   {"data":{"name":"notes"},"transform":[{"filter":"datum.p=='a2'&&datum.k=='t'"}],"mark":{"type":"text","align":"left","baseline":"alphabetic","fontSize":19},"encoding":{"text":{"field":"t","type":"nominal"}}},
   {"data":{"name":"notes"},"transform":[{"filter":"datum.p=='a2'&&datum.k=='sub'"}],"mark":{"type":"text","align":"left","baseline":"alphabetic","fontSize":13,"dy":4},"encoding":{"text":{"field":"t","type":"nominal"}}},
   {"data":{"name":"notes"},"transform":[{"filter":"datum.p=='a2'&&datum.k=='yt'"}],"mark":{"type":"text","align":"left","baseline":"alphabetic","fontSize":22,"angle":270},"encoding":{"text":{"field":"t","type":"nominal"}}},
   {"data":{"name":"notes"},"transform":[{"filter":"datum.p=='a2'&&datum.k=='ysub'"}],"mark":{"type":"text","align":"left","baseline":"alphabetic","fontSize":15.4,"angle":270,"dy":4.5},"encoding":{"text":{"field":"t","type":"nominal"}}}
  ]},
  {"data":{"name":"notes"},"transform":[{"filter":"datum.p=='a2'&&datum.k=='dash'"}],"mark":{"type":"point","opacity":0},
   "encoding":{"x":{"field":"R","type":"quantitative","scale":{"domain":[0,0.35],"nice":false,"zero":false},"axis":{"orient":"bottom","values":[0.01,0.02,0.03,0.04,0.05,0.06,0.07,0.08,0.09,0.11,0.12,0.13,0.14,0.15,0.16,0.17,0.18,0.19,0.21,0.22,0.23,0.24,0.25,0.26,0.27,0.28,0.29,0.31,0.32,0.33,0.34,0.35],"labels":false,"tickSize":2,"title":null}},
    "y":{"field":"v","type":"quantitative","scale":{"domain":[0,15],"nice":false,"zero":false},"axis":{"orient":"left","values":[2,4,6,8,12,14],"labels":false,"tickSize":2,"title":null}}}}
 ]},
{"width":289,"height":102,
 "encoding":{"x":{"field":"R","type":"quantitative","scale":{"domain":[0,0.35],"nice":false,"zero":false},"axis":{"orient":"bottom","values":[0,0.1,0.2,0.3],"labels":false,"tickSize":3.5,"title":null}},
  "y":{"field":"v","type":"quantitative","scale":{"domain":[0,15],"nice":false,"zero":false},"axis":{"orient":"left","values":[0,10],"format":"d","tickSize":3.5,"title":null}}},
 "resolve":{"axis":{"x":"independent","y":"independent"}},
 "layer":[
  {"layer":[
   {"data":{"name":"profiles"},"transform":[{"filter":"datum.p=='b2'"}],"mark":{"type":"line","strokeWidth":1.5},"encoding":{"color":{"field":"s","type":"nominal","scale":{"domain":["alpha","cool","rm","te","ti","ne","gnbi","pf"],"range":["#ff7f0e","#1f77b4","#2ca02c","#d62728","#17becf","#9467bd","#bcbd22","#000000"]},"legend":null}}},
   {"data":{"name":"notes"},"transform":[{"filter":"datum.p=='b2'&&datum.k=='dash'"}],"mark":{"type":"rule","color":"black","strokeWidth":1.3,"strokeDash":[5,3]},"encoding":{"y2":{"field":"v2"}}},
   {"data":{"name":"notes"},"transform":[{"filter":"datum.p=='b2'&&datum.k=='lbox'"}],"mark":{"type":"rect","fill":"white","fillOpacity":0.8,"stroke":"#cccccc","strokeWidth":1,"cornerRadius":4},"encoding":{"x2":{"field":"R2"},"y2":{"field":"v2"}}},
   {"data":{"name":"notes"},"transform":[{"filter":"datum.p=='b2'&&datum.k=='samp'"}],"mark":{"type":"rule","strokeWidth":1.5},"encoding":{"x2":{"field":"R2"},"color":{"field":"s","type":"nominal","scale":{"domain":["alpha","cool","rm","te","ti","ne","gnbi","pf"],"range":["#ff7f0e","#1f77b4","#2ca02c","#d62728","#17becf","#9467bd","#bcbd22","#000000"]},"legend":null}}},
   {"data":{"name":"notes"},"transform":[{"filter":"datum.p=='b2'&&datum.k=='t'"}],"mark":{"type":"text","align":"left","baseline":"alphabetic","fontSize":19},"encoding":{"text":{"field":"t","type":"nominal"}}},
   {"data":{"name":"notes"},"transform":[{"filter":"datum.p=='b2'&&datum.k=='sub'"}],"mark":{"type":"text","align":"left","baseline":"alphabetic","fontSize":13,"dy":4},"encoding":{"text":{"field":"t","type":"nominal"}}}
  ]},
  {"data":{"name":"notes"},"transform":[{"filter":"datum.p=='b2'&&datum.k=='dash'"}],"mark":{"type":"point","opacity":0},
   "encoding":{"x":{"field":"R","type":"quantitative","scale":{"domain":[0,0.35],"nice":false,"zero":false},"axis":{"orient":"bottom","values":[0.01,0.02,0.03,0.04,0.05,0.06,0.07,0.08,0.09,0.11,0.12,0.13,0.14,0.15,0.16,0.17,0.18,0.19,0.21,0.22,0.23,0.24,0.25,0.26,0.27,0.28,0.29,0.31,0.32,0.33,0.34,0.35],"labels":false,"tickSize":2,"title":null}},
    "y":{"field":"v","type":"quantitative","scale":{"domain":[0,15],"nice":false,"zero":false},"axis":{"orient":"left","values":[2,4,6,8,12,14],"labels":false,"tickSize":2,"title":null}}}}
 ]},
{"width":289,"height":102,
 "encoding":{"x":{"field":"R","type":"quantitative","scale":{"domain":[0,0.35],"nice":false,"zero":false},"axis":{"orient":"bottom","values":[0,0.1,0.2,0.3],"labels":false,"tickSize":3.5,"title":null}},
  "y":{"field":"v","type":"quantitative","scale":{"domain":[0,15],"nice":false,"zero":false},"axis":{"orient":"left","values":[0,10],"format":"d","tickSize":3.5,"title":null}}},
 "resolve":{"axis":{"x":"independent","y":"independent"}},
 "layer":[
  {"layer":[
   {"data":{"name":"profiles"},"transform":[{"filter":"datum.p=='c2'"}],"mark":{"type":"line","strokeWidth":1.5},"encoding":{"color":{"field":"s","type":"nominal","scale":{"domain":["alpha","cool","rm","te","ti","ne","gnbi","pf"],"range":["#ff7f0e","#1f77b4","#2ca02c","#d62728","#17becf","#9467bd","#bcbd22","#000000"]},"legend":null}}},
   {"data":{"name":"notes"},"transform":[{"filter":"datum.p=='c2'&&datum.k=='dash'"}],"mark":{"type":"rule","color":"black","strokeWidth":1.3,"strokeDash":[5,3]},"encoding":{"y2":{"field":"v2"}}}
  ]},
  {"data":{"name":"notes"},"transform":[{"filter":"datum.p=='c2'&&datum.k=='dash'"}],"mark":{"type":"point","opacity":0},
   "encoding":{"x":{"field":"R","type":"quantitative","scale":{"domain":[0,0.35],"nice":false,"zero":false},"axis":{"orient":"bottom","values":[0.01,0.02,0.03,0.04,0.05,0.06,0.07,0.08,0.09,0.11,0.12,0.13,0.14,0.15,0.16,0.17,0.18,0.19,0.21,0.22,0.23,0.24,0.25,0.26,0.27,0.28,0.29,0.31,0.32,0.33,0.34,0.35],"labels":false,"tickSize":2,"title":null}},
    "y":{"field":"v","type":"quantitative","scale":{"domain":[0,15],"nice":false,"zero":false},"axis":{"orient":"left","values":[2,4,6,8,12,14],"labels":false,"tickSize":2,"title":null}}}}
 ]},
{"width":289,"height":102,
 "encoding":{"x":{"field":"R","type":"quantitative","scale":{"domain":[0,0.35],"nice":false,"zero":false},"axis":{"orient":"bottom","values":[0,0.1,0.2,0.3],"labels":false,"tickSize":3.5,"title":null}},
  "y":{"field":"v","type":"quantitative","scale":{"domain":[0,1.5],"nice":false,"zero":false},"axis":{"orient":"left","values":[0,1],"format":"d","tickSize":3.5,"title":null}}},
 "resolve":{"axis":{"x":"independent","y":"independent"}},
 "layer":[
  {"layer":[
   {"data":{"name":"profiles"},"transform":[{"filter":"datum.p=='a3'"}],"mark":{"type":"line","strokeWidth":1.5},"encoding":{"color":{"field":"s","type":"nominal","scale":{"domain":["alpha","cool","rm","te","ti","ne","gnbi","pf"],"range":["#ff7f0e","#1f77b4","#2ca02c","#d62728","#17becf","#9467bd","#bcbd22","#000000"]},"legend":null}}},
   {"data":{"name":"notes"},"transform":[{"filter":"datum.p=='a3'&&datum.k=='dash'"}],"mark":{"type":"rule","color":"black","strokeWidth":1.3,"strokeDash":[5,3]},"encoding":{"y2":{"field":"v2"}}},
   {"data":{"name":"notes"},"transform":[{"filter":"datum.p=='a3'&&datum.k=='nbox'"}],"mark":{"type":"rect","fill":"white","stroke":"black","strokeWidth":1.2,"cornerRadius":5},"encoding":{"x2":{"field":"R2"},"y2":{"field":"v2"}}},
   {"data":{"name":"notes"},"transform":[{"filter":"datum.p=='a3'&&datum.k=='bt'"}],"mark":{"type":"text","align":"left","baseline":"alphabetic","fontSize":18},"encoding":{"text":{"field":"t","type":"nominal"}}},
   {"data":{"name":"notes"},"transform":[{"filter":"datum.p=='a3'&&datum.k=='lbox'"}],"mark":{"type":"rect","fill":"white","fillOpacity":0.8,"stroke":"#cccccc","strokeWidth":1,"cornerRadius":4},"encoding":{"x2":{"field":"R2"},"y2":{"field":"v2"}}},
   {"data":{"name":"notes"},"transform":[{"filter":"datum.p=='a3'&&datum.k=='samp'"}],"mark":{"type":"rule","strokeWidth":1.5},"encoding":{"x2":{"field":"R2"},"color":{"field":"s","type":"nominal","scale":{"domain":["alpha","cool","rm","te","ti","ne","gnbi","pf"],"range":["#ff7f0e","#1f77b4","#2ca02c","#d62728","#17becf","#9467bd","#bcbd22","#000000"]},"legend":null}}},
   {"data":{"name":"notes"},"transform":[{"filter":"datum.p=='a3'&&datum.k=='t'"}],"mark":{"type":"text","align":"left","baseline":"alphabetic","fontSize":19},"encoding":{"text":{"field":"t","type":"nominal"}}},
   {"data":{"name":"notes"},"transform":[{"filter":"datum.p=='a3'&&datum.k=='sub'"}],"mark":{"type":"text","align":"left","baseline":"alphabetic","fontSize":13,"dy":4},"encoding":{"text":{"field":"t","type":"nominal"}}},
   {"data":{"name":"notes"},"transform":[{"filter":"datum.p=='a3'&&datum.k=='sup'"}],"mark":{"type":"text","align":"left","baseline":"alphabetic","fontSize":13,"dy":-7},"encoding":{"text":{"field":"t","type":"nominal"}}},
   {"data":{"name":"notes"},"transform":[{"filter":"datum.p=='a3'&&datum.k=='yt'"}],"mark":{"type":"text","align":"left","baseline":"alphabetic","fontSize":22,"angle":270},"encoding":{"text":{"field":"t","type":"nominal"}}},
   {"data":{"name":"notes"},"transform":[{"filter":"datum.p=='a3'&&datum.k=='ysub'"}],"mark":{"type":"text","align":"left","baseline":"alphabetic","fontSize":15.4,"angle":270,"dy":4.5},"encoding":{"text":{"field":"t","type":"nominal"}}}
  ]},
  {"data":{"name":"notes"},"transform":[{"filter":"datum.p=='a3'&&datum.k=='dash'"}],"mark":{"type":"point","opacity":0},
   "encoding":{"x":{"field":"R","type":"quantitative","scale":{"domain":[0,0.35],"nice":false,"zero":false},"axis":{"orient":"bottom","values":[0.01,0.02,0.03,0.04,0.05,0.06,0.07,0.08,0.09,0.11,0.12,0.13,0.14,0.15,0.16,0.17,0.18,0.19,0.21,0.22,0.23,0.24,0.25,0.26,0.27,0.28,0.29,0.31,0.32,0.33,0.34,0.35],"labels":false,"tickSize":2,"title":null}},
    "y":{"field":"v","type":"quantitative","scale":{"domain":[0,1.5],"nice":false,"zero":false},"axis":{"orient":"left","values":[0.1,0.2,0.3,0.4,0.5,0.6,0.7,0.8,0.9,1.1,1.2,1.3,1.4,1.5],"labels":false,"tickSize":2,"title":null}}}}
 ]},
{"width":289,"height":102,
 "encoding":{"x":{"field":"R","type":"quantitative","scale":{"domain":[0,0.35],"nice":false,"zero":false},"axis":{"orient":"bottom","values":[0,0.1,0.2,0.3],"labels":false,"tickSize":3.5,"title":null}},
  "y":{"field":"v","type":"quantitative","scale":{"domain":[0,1.5],"nice":false,"zero":false},"axis":{"orient":"left","values":[0,1],"format":"d","tickSize":3.5,"title":null}}},
 "resolve":{"axis":{"x":"independent","y":"independent"}},
 "layer":[
  {"layer":[
   {"data":{"name":"profiles"},"transform":[{"filter":"datum.p=='b3'"}],"mark":{"type":"line","strokeWidth":1.5},"encoding":{"color":{"field":"s","type":"nominal","scale":{"domain":["alpha","cool","rm","te","ti","ne","gnbi","pf"],"range":["#ff7f0e","#1f77b4","#2ca02c","#d62728","#17becf","#9467bd","#bcbd22","#000000"]},"legend":null}}},
   {"data":{"name":"notes"},"transform":[{"filter":"datum.p=='b3'&&datum.k=='dash'"}],"mark":{"type":"rule","color":"black","strokeWidth":1.3,"strokeDash":[5,3]},"encoding":{"y2":{"field":"v2"}}},
   {"data":{"name":"notes"},"transform":[{"filter":"datum.p=='b3'&&datum.k=='nbox'"}],"mark":{"type":"rect","fill":"white","stroke":"black","strokeWidth":1.2,"cornerRadius":5},"encoding":{"x2":{"field":"R2"},"y2":{"field":"v2"}}},
   {"data":{"name":"notes"},"transform":[{"filter":"datum.p=='b3'&&datum.k=='bt'"}],"mark":{"type":"text","align":"left","baseline":"alphabetic","fontSize":18},"encoding":{"text":{"field":"t","type":"nominal"}}},
   {"data":{"name":"notes"},"transform":[{"filter":"datum.p=='b3'&&datum.k=='lbox'"}],"mark":{"type":"rect","fill":"white","fillOpacity":0.8,"stroke":"#cccccc","strokeWidth":1,"cornerRadius":4},"encoding":{"x2":{"field":"R2"},"y2":{"field":"v2"}}},
   {"data":{"name":"notes"},"transform":[{"filter":"datum.p=='b3'&&datum.k=='samp'"}],"mark":{"type":"rule","strokeWidth":1.5},"encoding":{"x2":{"field":"R2"},"color":{"field":"s","type":"nominal","scale":{"domain":["alpha","cool","rm","te","ti","ne","gnbi","pf"],"range":["#ff7f0e","#1f77b4","#2ca02c","#d62728","#17becf","#9467bd","#bcbd22","#000000"]},"legend":null}}},
   {"data":{"name":"notes"},"transform":[{"filter":"datum.p=='b3'&&datum.k=='t'"}],"mark":{"type":"text","align":"left","baseline":"alphabetic","fontSize":19},"encoding":{"text":{"field":"t","type":"nominal"}}},
   {"data":{"name":"notes"},"transform":[{"filter":"datum.p=='b3'&&datum.k=='sub'"}],"mark":{"type":"text","align":"left","baseline":"alphabetic","fontSize":13,"dy":4},"encoding":{"text":{"field":"t","type":"nominal"}}},
   {"data":{"name":"notes"},"transform":[{"filter":"datum.p=='b3'&&datum.k=='sup'"}],"mark":{"type":"text","align":"left","baseline":"alphabetic","fontSize":13,"dy":-7},"encoding":{"text":{"field":"t","type":"nominal"}}}
  ]},
  {"data":{"name":"notes"},"transform":[{"filter":"datum.p=='b3'&&datum.k=='dash'"}],"mark":{"type":"point","opacity":0},
   "encoding":{"x":{"field":"R","type":"quantitative","scale":{"domain":[0,0.35],"nice":false,"zero":false},"axis":{"orient":"bottom","values":[0.01,0.02,0.03,0.04,0.05,0.06,0.07,0.08,0.09,0.11,0.12,0.13,0.14,0.15,0.16,0.17,0.18,0.19,0.21,0.22,0.23,0.24,0.25,0.26,0.27,0.28,0.29,0.31,0.32,0.33,0.34,0.35],"labels":false,"tickSize":2,"title":null}},
    "y":{"field":"v","type":"quantitative","scale":{"domain":[0,1.5],"nice":false,"zero":false},"axis":{"orient":"left","values":[0.1,0.2,0.3,0.4,0.5,0.6,0.7,0.8,0.9,1.1,1.2,1.3,1.4,1.5],"labels":false,"tickSize":2,"title":null}}}}
 ]},
{"width":289,"height":102,
 "encoding":{"x":{"field":"R","type":"quantitative","scale":{"domain":[0,0.35],"nice":false,"zero":false},"axis":{"orient":"bottom","values":[0,0.1,0.2,0.3],"labels":false,"tickSize":3.5,"title":null}},
  "y":{"field":"v","type":"quantitative","scale":{"domain":[0,1.5],"nice":false,"zero":false},"axis":{"orient":"left","values":[0,1],"format":"d","tickSize":3.5,"title":null}}},
 "resolve":{"axis":{"x":"independent","y":"independent"}},
 "layer":[
  {"layer":[
   {"data":{"name":"profiles"},"transform":[{"filter":"datum.p=='c3'"}],"mark":{"type":"line","strokeWidth":1.5},"encoding":{"color":{"field":"s","type":"nominal","scale":{"domain":["alpha","cool","rm","te","ti","ne","gnbi","pf"],"range":["#ff7f0e","#1f77b4","#2ca02c","#d62728","#17becf","#9467bd","#bcbd22","#000000"]},"legend":null}}},
   {"data":{"name":"notes"},"transform":[{"filter":"datum.p=='c3'&&datum.k=='dash'"}],"mark":{"type":"rule","color":"black","strokeWidth":1.3,"strokeDash":[5,3]},"encoding":{"y2":{"field":"v2"}}},
   {"data":{"name":"notes"},"transform":[{"filter":"datum.p=='c3'&&datum.k=='nbox'"}],"mark":{"type":"rect","fill":"white","stroke":"black","strokeWidth":1.2,"cornerRadius":5},"encoding":{"x2":{"field":"R2"},"y2":{"field":"v2"}}},
   {"data":{"name":"notes"},"transform":[{"filter":"datum.p=='c3'&&datum.k=='bt'"}],"mark":{"type":"text","align":"left","baseline":"alphabetic","fontSize":18},"encoding":{"text":{"field":"t","type":"nominal"}}}
  ]},
  {"data":{"name":"notes"},"transform":[{"filter":"datum.p=='c3'&&datum.k=='dash'"}],"mark":{"type":"point","opacity":0},
   "encoding":{"x":{"field":"R","type":"quantitative","scale":{"domain":[0,0.35],"nice":false,"zero":false},"axis":{"orient":"bottom","values":[0.01,0.02,0.03,0.04,0.05,0.06,0.07,0.08,0.09,0.11,0.12,0.13,0.14,0.15,0.16,0.17,0.18,0.19,0.21,0.22,0.23,0.24,0.25,0.26,0.27,0.28,0.29,0.31,0.32,0.33,0.34,0.35],"labels":false,"tickSize":2,"title":null}},
    "y":{"field":"v","type":"quantitative","scale":{"domain":[0,1.5],"nice":false,"zero":false},"axis":{"orient":"left","values":[0.1,0.2,0.3,0.4,0.5,0.6,0.7,0.8,0.9,1.1,1.2,1.3,1.4,1.5],"labels":false,"tickSize":2,"title":null}}}}
 ]},
{"width":289,"height":102,
 "encoding":{"x":{"field":"R","type":"quantitative","scale":{"domain":[0,0.35],"nice":false,"zero":false},"axis":{"orient":"bottom","values":[0,0.1,0.2,0.3],"format":"~g","labelFlush":false,"tickSize":3.5,"title":null}},
  "y":{"field":"v","type":"quantitative","scale":{"domain":[0,3.8],"nice":false,"zero":false},"axis":{"orient":"left","values":[0,1,2,3],"format":"d","tickSize":3.5,"title":null}}},
 "resolve":{"axis":{"x":"independent","y":"independent"}},
 "layer":[
  {"layer":[
   {"data":{"name":"profiles"},"transform":[{"filter":"datum.p=='a4'"}],"mark":{"type":"line","strokeWidth":1.5},"encoding":{"color":{"field":"s","type":"nominal","scale":{"domain":["alpha","cool","rm","te","ti","ne","gnbi","pf"],"range":["#ff7f0e","#1f77b4","#2ca02c","#d62728","#17becf","#9467bd","#bcbd22","#000000"]},"legend":null}}},
   {"data":{"name":"notes"},"transform":[{"filter":"datum.p=='a4'&&datum.k=='dash'"}],"mark":{"type":"rule","color":"black","strokeWidth":1.3,"strokeDash":[5,3]},"encoding":{"y2":{"field":"v2"}}},
   {"data":{"name":"notes"},"transform":[{"filter":"datum.p=='a4'&&datum.k=='nbox'"}],"mark":{"type":"rect","fill":"white","stroke":"black","strokeWidth":1.2,"cornerRadius":5},"encoding":{"x2":{"field":"R2"},"y2":{"field":"v2"}}},
   {"data":{"name":"notes"},"transform":[{"filter":"datum.p=='a4'&&datum.k=='bt'"}],"mark":{"type":"text","align":"left","baseline":"alphabetic","fontSize":18},"encoding":{"text":{"field":"t","type":"nominal"}}},
   {"data":{"name":"notes"},"transform":[{"filter":"datum.p=='a4'&&datum.k=='lbox'"}],"mark":{"type":"rect","fill":"white","fillOpacity":0.8,"stroke":"#cccccc","strokeWidth":1,"cornerRadius":4},"encoding":{"x2":{"field":"R2"},"y2":{"field":"v2"}}},
   {"data":{"name":"notes"},"transform":[{"filter":"datum.p=='a4'&&datum.k=='samp'"}],"mark":{"type":"rule","strokeWidth":1.5},"encoding":{"x2":{"field":"R2"},"color":{"field":"s","type":"nominal","scale":{"domain":["alpha","cool","rm","te","ti","ne","gnbi","pf"],"range":["#ff7f0e","#1f77b4","#2ca02c","#d62728","#17becf","#9467bd","#bcbd22","#000000"]},"legend":null}}},
   {"data":{"name":"notes"},"transform":[{"filter":"datum.p=='a4'&&datum.k=='t'"}],"mark":{"type":"text","align":"left","baseline":"alphabetic","fontSize":19},"encoding":{"text":{"field":"t","type":"nominal"}}},
   {"data":{"name":"notes"},"transform":[{"filter":"datum.p=='a4'&&datum.k=='sub'"}],"mark":{"type":"text","align":"left","baseline":"alphabetic","fontSize":13,"dy":4},"encoding":{"text":{"field":"t","type":"nominal"}}},
   {"data":{"name":"notes"},"transform":[{"filter":"datum.p=='a4'&&datum.k=='sup'"}],"mark":{"type":"text","align":"left","baseline":"alphabetic","fontSize":13,"dy":-7},"encoding":{"text":{"field":"t","type":"nominal"}}},
   {"data":{"name":"notes"},"transform":[{"filter":"datum.p=='a4'&&datum.k=='yt'"}],"mark":{"type":"text","align":"left","baseline":"alphabetic","fontSize":22,"angle":270},"encoding":{"text":{"field":"t","type":"nominal"}}},
   {"data":{"name":"notes"},"transform":[{"filter":"datum.p=='a4'&&datum.k=='ysub'"}],"mark":{"type":"text","align":"left","baseline":"alphabetic","fontSize":15.4,"angle":270,"dy":4.5},"encoding":{"text":{"field":"t","type":"nominal"}}}
  ]},
  {"data":{"name":"notes"},"transform":[{"filter":"datum.p=='a4'&&datum.k=='dash'"}],"mark":{"type":"point","opacity":0},
   "encoding":{"x":{"field":"R","type":"quantitative","scale":{"domain":[0,0.35],"nice":false,"zero":false},"axis":{"orient":"bottom","values":[0.01,0.02,0.03,0.04,0.05,0.06,0.07,0.08,0.09,0.11,0.12,0.13,0.14,0.15,0.16,0.17,0.18,0.19,0.21,0.22,0.23,0.24,0.25,0.26,0.27,0.28,0.29,0.31,0.32,0.33,0.34,0.35],"labels":false,"tickSize":2,"title":null}},
    "y":{"field":"v","type":"quantitative","scale":{"domain":[0,3.8],"nice":false,"zero":false},"axis":{"orient":"left","values":[0.2,0.4,0.6,0.8,1.2,1.4,1.6,1.8,2.2,2.4,2.6,2.8,3.2,3.4,3.6,3.8],"labels":false,"tickSize":2,"title":null}}}}
 ]},
{"width":289,"height":102,
 "encoding":{"x":{"field":"R","type":"quantitative","scale":{"domain":[0,0.35],"nice":false,"zero":false},"axis":{"orient":"bottom","values":[0,0.1,0.2,0.3],"format":"~g","labelFlush":false,"tickSize":3.5,"title":"R [m]","titlePadding":-4}},
  "y":{"field":"v","type":"quantitative","scale":{"domain":[0,3.35],"nice":false,"zero":false},"axis":{"orient":"left","values":[0,1,2,3],"format":"d","tickSize":3.5,"title":null}}},
 "resolve":{"axis":{"x":"independent","y":"independent"}},
 "layer":[
  {"layer":[
   {"data":{"name":"profiles"},"transform":[{"filter":"datum.p=='b4'"}],"mark":{"type":"line","strokeWidth":1.5},"encoding":{"color":{"field":"s","type":"nominal","scale":{"domain":["alpha","cool","rm","te","ti","ne","gnbi","pf"],"range":["#ff7f0e","#1f77b4","#2ca02c","#d62728","#17becf","#9467bd","#bcbd22","#000000"]},"legend":null}}},
   {"data":{"name":"notes"},"transform":[{"filter":"datum.p=='b4'&&datum.k=='dash'"}],"mark":{"type":"rule","color":"black","strokeWidth":1.3,"strokeDash":[5,3]},"encoding":{"y2":{"field":"v2"}}},
   {"data":{"name":"notes"},"transform":[{"filter":"datum.p=='b4'&&datum.k=='nbox'"}],"mark":{"type":"rect","fill":"white","stroke":"black","strokeWidth":1.2,"cornerRadius":5},"encoding":{"x2":{"field":"R2"},"y2":{"field":"v2"}}},
   {"data":{"name":"notes"},"transform":[{"filter":"datum.p=='b4'&&datum.k=='bt'"}],"mark":{"type":"text","align":"left","baseline":"alphabetic","fontSize":18},"encoding":{"text":{"field":"t","type":"nominal"}}},
   {"data":{"name":"notes"},"transform":[{"filter":"datum.p=='b4'&&datum.k=='sub'"}],"mark":{"type":"text","align":"left","baseline":"alphabetic","fontSize":13,"dy":4},"encoding":{"text":{"field":"t","type":"nominal"}}}
  ]},
  {"data":{"name":"notes"},"transform":[{"filter":"datum.p=='b4'&&datum.k=='dash'"}],"mark":{"type":"point","opacity":0},
   "encoding":{"x":{"field":"R","type":"quantitative","scale":{"domain":[0,0.35],"nice":false,"zero":false},"axis":{"orient":"bottom","values":[0.01,0.02,0.03,0.04,0.05,0.06,0.07,0.08,0.09,0.11,0.12,0.13,0.14,0.15,0.16,0.17,0.18,0.19,0.21,0.22,0.23,0.24,0.25,0.26,0.27,0.28,0.29,0.31,0.32,0.33,0.34,0.35],"labels":false,"tickSize":2,"title":null}},
    "y":{"field":"v","type":"quantitative","scale":{"domain":[0,3.35],"nice":false,"zero":false},"axis":{"orient":"left","values":[0.2,0.4,0.6,0.8,1.2,1.4,1.6,1.8,2.2,2.4,2.6,2.8,3.2],"labels":false,"tickSize":2,"title":null}}}}
 ]},
{"width":289,"height":102,
 "encoding":{"x":{"field":"R","type":"quantitative","scale":{"domain":[0,0.35],"nice":false,"zero":false},"axis":{"orient":"bottom","values":[0,0.1,0.2,0.3],"format":"~g","labelFlush":false,"tickSize":3.5,"title":null}},
  "y":{"field":"v","type":"quantitative","scale":{"domain":[0,6.5],"nice":false,"zero":false},"axis":{"orient":"left","values":[0,5],"format":"d","tickSize":3.5,"title":null}}},
 "resolve":{"axis":{"x":"independent","y":"independent"}},
 "layer":[
  {"layer":[
   {"data":{"name":"profiles"},"transform":[{"filter":"datum.p=='c4'"}],"mark":{"type":"line","strokeWidth":1.5},"encoding":{"color":{"field":"s","type":"nominal","scale":{"domain":["alpha","cool","rm","te","ti","ne","gnbi","pf"],"range":["#ff7f0e","#1f77b4","#2ca02c","#d62728","#17becf","#9467bd","#bcbd22","#000000"]},"legend":null}}},
   {"data":{"name":"notes"},"transform":[{"filter":"datum.p=='c4'&&datum.k=='dash'"}],"mark":{"type":"rule","color":"black","strokeWidth":1.3,"strokeDash":[5,3]},"encoding":{"y2":{"field":"v2"}}},
   {"data":{"name":"notes"},"transform":[{"filter":"datum.p=='c4'&&datum.k=='nbox'"}],"mark":{"type":"rect","fill":"white","stroke":"black","strokeWidth":1.2,"cornerRadius":5},"encoding":{"x2":{"field":"R2"},"y2":{"field":"v2"}}},
   {"data":{"name":"notes"},"transform":[{"filter":"datum.p=='c4'&&datum.k=='bt'"}],"mark":{"type":"text","align":"left","baseline":"alphabetic","fontSize":18},"encoding":{"text":{"field":"t","type":"nominal"}}},
   {"data":{"name":"notes"},"transform":[{"filter":"datum.p=='c4'&&datum.k=='sub'"}],"mark":{"type":"text","align":"left","baseline":"alphabetic","fontSize":13,"dy":4},"encoding":{"text":{"field":"t","type":"nominal"}}}
  ]},
  {"data":{"name":"notes"},"transform":[{"filter":"datum.p=='c4'&&datum.k=='dash'"}],"mark":{"type":"point","opacity":0},
   "encoding":{"x":{"field":"R","type":"quantitative","scale":{"domain":[0,0.35],"nice":false,"zero":false},"axis":{"orient":"bottom","values":[0.01,0.02,0.03,0.04,0.05,0.06,0.07,0.08,0.09,0.11,0.12,0.13,0.14,0.15,0.16,0.17,0.18,0.19,0.21,0.22,0.23,0.24,0.25,0.26,0.27,0.28,0.29,0.31,0.32,0.33,0.34,0.35],"labels":false,"tickSize":2,"title":null}},
    "y":{"field":"v","type":"quantitative","scale":{"domain":[0,6.5],"nice":false,"zero":false},"axis":{"orient":"left","values":[1,2,3,4,6],"labels":false,"tickSize":2,"title":null}}}}
 ]}
],
"config": {
 "font": "Liberation Sans",
 "view": {"stroke": "black", "strokeWidth": 1},
 "axis": {"domain": true, "domainColor": "black", "domainWidth": 1, "zindex": 1, "grid": false, "ticks": true, "tickColor": "black", "tickWidth": 1, "labelColor": "black", "labelFont": "Liberation Sans", "labelFontSize": 16, "labelPadding": 3, "titleFont": "Liberation Sans", "titleFontSize": 22, "titleFontWeight": "normal", "titleColor": "black"},
 "text": {"color": "black", "font": "Liberation Sans"}
}
}
